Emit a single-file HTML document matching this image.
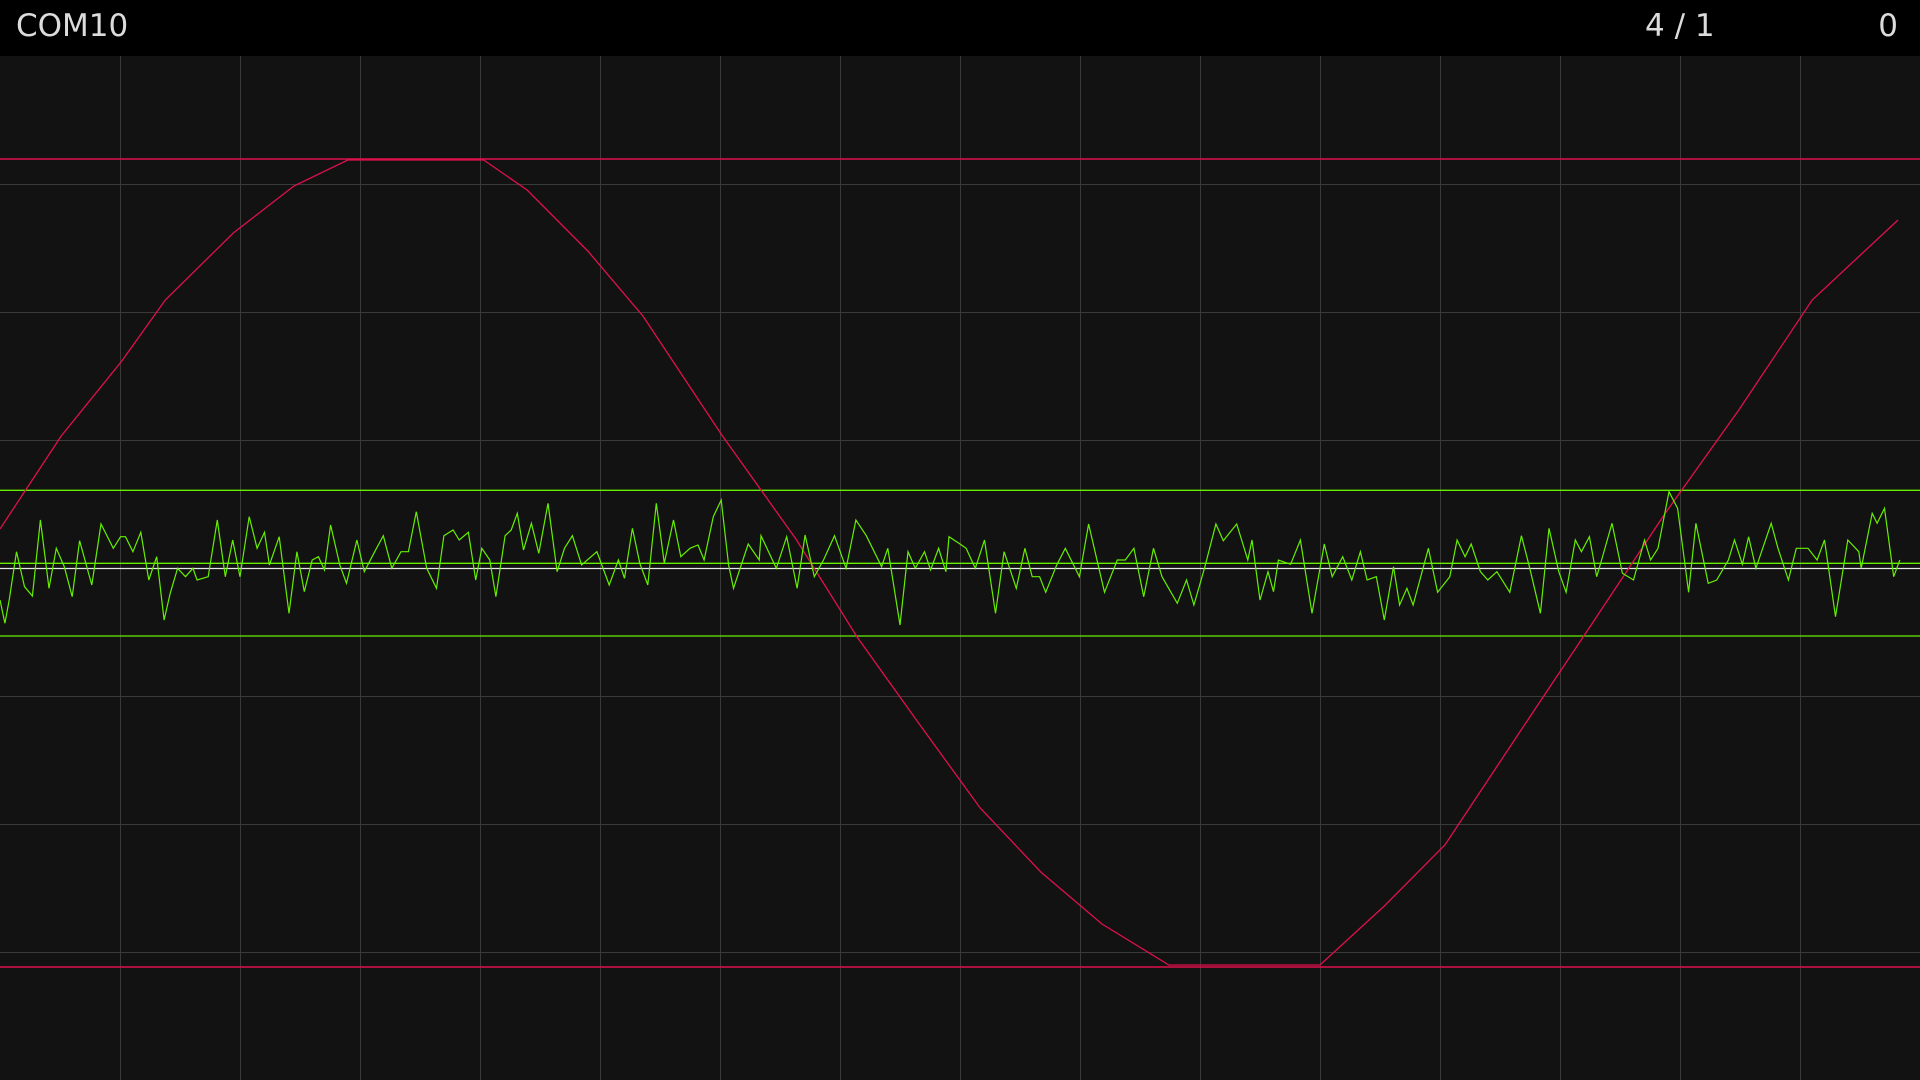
<!DOCTYPE html>
<html><head><meta charset="utf-8"><style>
html,body{margin:0;padding:0;background:#121212;overflow:hidden}
#wrap{position:relative;width:1920px;height:1080px}
#hdr{position:absolute;left:0;top:0;width:1920px;height:56px;background:#000;color:#dcdcdc;font-family:"DejaVu Sans","Liberation Sans",sans-serif;font-size:31px}
#hdr span{position:absolute;top:8px;line-height:36px}
svg{position:absolute;left:0;top:0}
</style></head><body>
<div id="wrap">
<svg id="chart" width="1920" height="1080"></svg>
<div id="hdr">
<span style="left:16px">COM10</span>
<span style="left:1645px">4 / 1</span>
<span style="right:22px">0</span>
</div>
</div>
<script>
const redT=[0,100,199,270,381,480,568,790,861,960,1050,1179,1300,1400,1499,1601,1700,1800,1909,2156,2261,2360,2479,2600,2719,2840,2960,3100];
const redV=[117,396,621,804,1005,1146,1224,1224,1134,951,756,399,87,-207,-462,-720,-912,-1068,-1191,-1191,-1014,-831,-501,-168,162,474,804,1044];
const greenT=[0,8,15,27,40,53,66,80,92,105,118,130,150,165,185,197,205,217,230,243,256,268,278,290,303,315,322,340,355,368,380,392,407,420,432,440,456,472,485,497,510,520,530,540,555,566,583,595,612,626,640,655,667,680,697,713,725,740,750,765,777,787,800,810,825,835,845,855,868,880,895,910,922,935,950,975,995,1010,1020,1033,1045,1058,1072,1085,1100,1112,1127,1140,1150,1165,1178,1190,1198,1222,1240,1243,1268,1285,1302,1315,1330,1345,1363,1382,1398,1415,1440,1450,1470,1483,1495,1510,1520,1533,1545,1550,1568,
1578,1593,1608,1626,1640,1660,1674,1686,1698,1708,1726,1740,1763,1778,1804,1825,1838,1852,1868,1884,1898,1923,1938,1950,1968,1986,1998,2020,2038,2045,2058,2071,2080,2088,2108,2124,2143,2163,2176,2193,2208,2222,2233,2248,2261,2276,2286,2298,2308,2333,2348,2368,2380,2393,2403,2418,2430,2445,2466,2485,2498,2516,2530,2546,2558,2573,2583,2596,2608,2616,2633,2650,2668,2686,2696,2708,2726,2740,2758,2770,2790,2804,2823,2833,2846,2856,2868,2893,2904,2921,2934,2953,2968,2980,2998,3018,3036,3040,3058,3066,3078,3093,3103];
const greenV=[-96,-166,-96,49,-56,-84,144,-61,59,4,-86,82,-51,132,59,94,94,49,107,-36,34,-156,-76,-1,-26,-1,-36,-26,144,-26,84,-26,154,59,107,9,94,-136,49,-71,24,34,-6,129,9,-46,84,-11,49,97,-1,49,49,169,-1,-61,97,114,84,107,-36,59,24,-86,97,114,164,54,134,44,194,-11,59,97,9,49,-51,24,-31,119,14,-51,194,14,144,34,59,69,24,154,204,9,-61,72,24,97,-1,94,-61,99,-26,24,97,-1,144,97,4,59,-171,49,-1,49,-6,59,-11,94,72,
59,-1,84,-136,49,-61,59,-26,-26,-73,9,59,-26,132,-73,24,24,59,-86,59,-26,-106,-36,-111,4,132,82,132,24,84,-96,-11,-71,24,11,84,-136,72,-26,34,-36,49,-36,-26,-156,4,-111,-61,-111,59,-73,-26,84,34,72,-11,-36,-11,-73,97,4,-136,119,-11,-73,84,49,94,-26,24,134,-16,-36,84,24,59,229,179,-73,134,-46,-36,24,84,11,94,-1,134,59,-36,59,59,24,84,-146,84,49,-1,164,134,179,-26,24];
const refLevels=[1227,-1197];
const railLevels=[233,14,-204];
const gridCols=[1,2,3,4,5,6,7,8,9,10,11,12,13,14,15];
const gridRows=[-3,-2,-1,1,2,3];
const NS='http://www.w3.org/2000/svg';
const svg=document.getElementById('chart');
const x=t=>t*960/1568;
const y=v=>568-v/3;
function mk(tag,a){const e=document.createElementNS(NS,tag);for(const k in a)e.setAttribute(k,a[k]);svg.appendChild(e);return e;}
mk('rect',{x:0,y:0,width:1920,height:1080,fill:'#121212'});
gridCols.forEach(c=>{const l=mk('line',{x1:c*120+0.5,x2:c*120+0.5,y1:56,y2:1080,stroke:'#3a3a3a','stroke-width':1});

});
gridRows.forEach(r=>{const l=mk('line',{x1:0,x2:1920,y1:568-r*128+0.5,y2:568-r*128+0.5,stroke:'#3a3a3a','stroke-width':1});

});
const w=mk('line',{x1:0,x2:1920,y1:y(0)+0.5,y2:y(0)+0.5,stroke:'#e8e8e8','stroke-width':1.2});


refLevels.forEach(v=>{const l=mk('line',{x1:0,x2:1920,y1:y(v),y2:y(v),stroke:'#e0104c','stroke-width':1.4});

});
railLevels.forEach(v=>{const l=mk('line',{x1:0,x2:1920,y1:y(v),y2:y(v),stroke:'#66ee00','stroke-width':1.3});

});
const rp=redT.map((t,i)=>x(t).toFixed(1)+','+y(redV[i]).toFixed(1)).join(' ');
const red=mk('polyline',{points:rp,fill:'none',stroke:'#e0104c','stroke-width':1.3});


const gp=greenT.map((t,i)=>x(t).toFixed(1)+','+y(greenV[i]).toFixed(1)).join(' ');
const g=mk('polyline',{points:gp,fill:'none',stroke:'#66ee00','stroke-width':1.2});


</script>
</body></html>
